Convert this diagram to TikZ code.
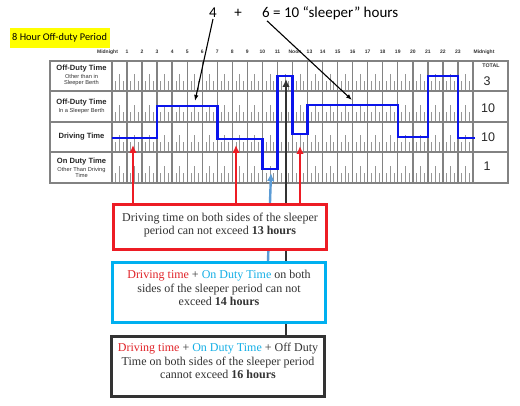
\documentclass[tikz,border=0pt]{standalone}
\usepackage{fontspec}
\setmainfont{Liberation Sans}
\newfontfamily\calib{Carlito}
\newfontfamily\boxserif{Liberation Serif}
\usetikzlibrary{arrows.meta}
\pgfdeclarelayer{gridlayer}
\pgfdeclarelayer{arrowlayer}
\pgfsetlayers{gridlayer,arrowlayer,main}
\definecolor{gridgray}{RGB}{130,130,130}
\definecolor{tickgray}{RGB}{150,150,150}
\definecolor{lineblue}{RGB}{10,20,235}
\definecolor{arrred}{RGB}{237,28,36}
\definecolor{arrlblue}{RGB}{91,155,213}
\definecolor{boxblue}{RGB}{0,176,240}
\definecolor{darkgray}{RGB}{51,51,51}
\definecolor{txtred}{RGB}{225,35,40}
\definecolor{txtblue}{RGB}{20,175,230}
\definecolor{hl}{RGB}{255,255,0}
\begin{document}
\begin{tikzpicture}[x=1pt,y=-1pt,
  tickline/.style={tickgray,line width=0.8pt},
  gridline/.style={gridgray,line width=1.4pt},
  hourlbl/.style={font=\fontsize{5}{6}\selectfont\bfseries,inner sep=0pt,text=darkgray},
  rowtitle/.style={font=\fontsize{7.6}{8.5}\selectfont\bfseries,inner sep=0pt,text=black!85},
  rowsub/.style={font=\fontsize{5.7}{6.6}\selectfont,inner sep=0pt,text=black!80,align=center},
  totnum/.style={font=\fontsize{12.5}{14}\selectfont,inner sep=0pt,text=black!85},
  rulebox/.style={draw,line width=2.6pt,fill=white,minimum width=213pt,align=center,
     font=\boxserif\fontsize{12}{13.4}\selectfont,text=darkgray,inner sep=0pt},
  thickarrow/.style={line width=2.4pt,-{Latex[length=8pt,width=7.5pt]}},
  thinarrow/.style={line width=1.1pt,black,-{Latex[length=6pt,width=4.5pt]}}
]
\useasboundingbox (0,0) rectangle (520,406);

% yellow title
\fill[hl] (10,28) rectangle (110,48);
\node[font=\calib\fontsize{10.3}{12}\selectfont,inner sep=0pt,anchor=west] (title) at (12,38) {8 Hour Off-duty Period};

% top text
\node[font=\calib\fontsize{15}{17}\selectfont,inner sep=0pt] (four) at (213,13) {4};
\node[font=\calib\fontsize{15}{17}\selectfont,inner sep=0pt] (plus) at (238,13) {+};
\node[font=\calib\fontsize{15}{17}\selectfont,inner sep=0pt,anchor=west] (six) at (262,13) {6 = 10 “sleeper” hours};

\begin{pgfonlayer}{gridlayer}
% ticks
\foreach \yb in {91,122,152,183}{
  \foreach \h in {0,...,23}{
    \draw[tickline] ({112+15.04*(\h+0.25)},\yb) -- ++(0,-10);
    \draw[tickline] ({112+15.04*(\h+0.5)},\yb) -- ++(0,-17);
    \draw[tickline] ({112+15.04*(\h+0.75)},\yb) -- ++(0,-10);
  }
}
% grid lines
\foreach \h in {0,...,24}{
  \draw[gridline] ({112+15.04*\h},61) -- ({112+15.04*\h},183);
}
\foreach \y in {91,122,152}{
  \draw[gridline] (50,\y) -- (508,\y);
}
\draw[gridline] (50,61) rectangle (508,183);

% duty status line
\draw[lineblue,line width=2.4pt,line join=miter]
  (112,138) -- (157.1,138) -- (157.1,106) -- (217.3,106) -- (217.3,139) -- (262.4,139)
  -- (262.4,169) -- (277.4,169) -- (277.4,76) -- (292.5,76) -- (292.5,134) -- (307.5,134)
  -- (307.5,105) -- (397.8,105) -- (397.8,137) -- (427.8,137) -- (427.8,76) -- (457.9,76)
  -- (457.9,138) -- (475,138);
\end{pgfonlayer}

% hour labels
\node[hourlbl] (hmid0) at (107.5,52) {Midnight};
\foreach \h in {1,...,11}{
  \node[hourlbl] (h\h) at ({112+15.04*\h},52) {\h};
}
\node[hourlbl] (hnoon) at (295,52) {Noon};
\foreach \h in {13,...,23}{
  \node[hourlbl] (h\h) at ({112+15.04*\h+(\h==13?2:0)},52) {\h};
}
\node[hourlbl] (hmid24) at (484,52) {Midnight};

% row labels
\node[rowtitle] (r1t) at (81.5,69) {Off-Duty Time};
\node[rowsub] (r1s) at (81.5,80) {Other than in\\Sleeper Berth};
\node[rowtitle] (r2t) at (81.5,103) {Off-Duty Time};
\node[rowsub] (r2s) at (81.5,111) {In a Sleeper Berth};
\node[rowtitle] (r3t) at (81.5,137) {Driving Time};
\node[rowtitle] (r4t) at (81.5,162) {On Duty Time};
\node[rowsub] (r4s) at (81.5,172.5) {Other Than Driving\\Time};

% totals
\node[hourlbl,font=\fontsize{5.3}{6}\selectfont\bfseries] (tot) at (491,66) {TOTAL};
\node[totnum] (t1) at (487,81) {3};
\node[totnum] (t2) at (488,108) {10};
\node[totnum] (t3) at (488,137) {10};
\node[totnum] (t4) at (487,166) {1};

% coordinates for arrow tips
\coordinate (tip4) at (195,101);
\coordinate (tip6) at (352,100);
\coordinate (tipr1) at (133,145);
\coordinate (tipr2) at (236,145);
\coordinate (tipr3) at (300,146);
\coordinate (tipb) at (271,173);
\coordinate (tipk) at (286,79);

\draw[thinarrow] ([yshift=-1pt]four.south) -- (tip4);
\draw[thinarrow] ([xshift=5pt,yshift=-1pt]six.south west) -- (tip6);

% boxes
\node[rulebox,draw=arrred,minimum height=45pt,text depth=6pt] (rbox) at (220,227)
 {Driving time on both sides of the sleeper\\
  period can not exceed \textbf{13 hours}};
\node[rulebox,draw=boxblue,minimum height=60pt,text depth=9pt] (bbox) at (219,292.5)
 {{\color{txtred}Driving time} + {\color{txtblue}On Duty Time} on both\\
  sides of the sleeper period can not\\
  exceed \textbf{14 hours}};
\node[rulebox,draw=darkgray,minimum height=60pt,text depth=11pt] (kbox) at (218,366.5)
 {{\color{txtred}Driving time} + {\color{txtblue}On Duty Time} + Off Duty\\
  Time on both sides of the sleeper period\\
  cannot exceed \textbf{16 hours}};

% connectors, passing behind the boxes
\begin{pgfonlayer}{arrowlayer}
\draw[thickarrow,darkgray] (kbox.north -| tipk) -- (tipk);
\draw[thickarrow,arrlblue] (bbox.north -| 268,0) -- (tipb);
\draw[thickarrow,arrred] (rbox.north -| tipr1) -- (tipr1);
\draw[thickarrow,arrred] (rbox.north -| tipr2) -- (tipr2);
\draw[thickarrow,arrred] (rbox.north -| tipr3) -- (tipr3);
\end{pgfonlayer}
\end{tikzpicture}
\end{document}
